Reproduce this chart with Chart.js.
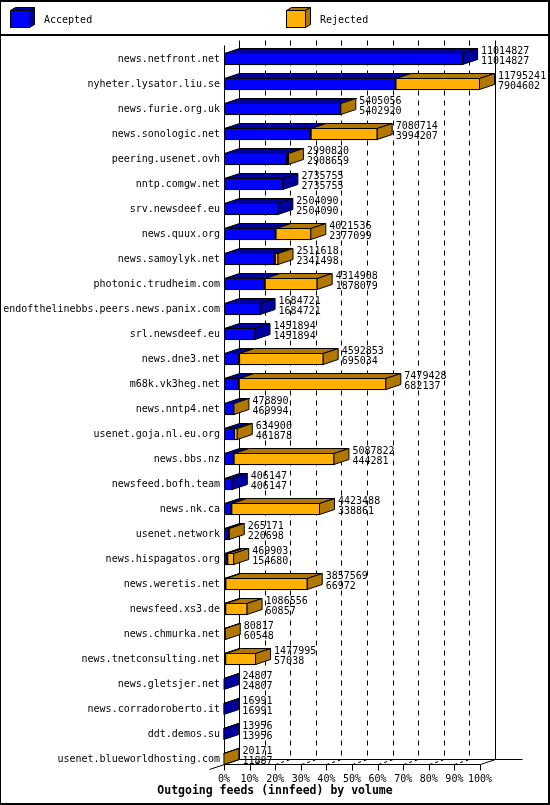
<!DOCTYPE html>
<html>
<head>
<meta charset="utf-8">
<script src="https://cdn.jsdelivr.net/npm/chart.js@4.4.0/dist/chart.umd.min.js"></script>
<style>
html,body{margin:0;padding:0;background:#fff;}
canvas{display:block;}
</style>
</head>
<body>
<canvas id="c" width="550" height="805"></canvas>
<script>
// ---- data ----
const categories = [
  'news.netfront.net','nyheter.lysator.liu.se','news.furie.org.uk','news.sonologic.net',
  'peering.usenet.ovh','nntp.comgw.net','srv.newsdeef.eu','news.quux.org',
  'news.samoylyk.net','photonic.trudheim.com','endofthelinebbs.peers.news.panix.com','srl.newsdeef.eu',
  'news.dne3.net','m68k.vk3heg.net','news.nntp4.net','usenet.goja.nl.eu.org',
  'news.bbs.nz','newsfeed.bofh.team','news.nk.ca','usenet.network',
  'news.hispagatos.org','news.weretis.net','newsfeed.xs3.de','news.chmurka.net',
  'news.tnetconsulting.net','news.gletsjer.net','news.corradoroberto.it','ddt.demos.su',
  'usenet.blueworldhosting.com'
];
const offered = [
  11014827, 11795241, 5405056, 7080714,
  2990820, 2735755, 2504090, 4021536,
  2511618, 4314908, 1684721, 1451894,
  4592853, 7479428, 478890, 634900,
  5087822, 406147, 4423488, 265171,
  469903, 3857569, 1086556, 80817,
  1477995, 24807, 16991, 13956,
  20171
];
const accepted = [
  11014827, 7904602, 5402920, 3994207,
  2908659, 2735755, 2504090, 2377099,
  2341498, 1878079, 1684721, 1451894,
  695034, 682137, 469994, 461878,
  444281, 406147, 338861, 220698,
  154680, 66972, 60857, 60548,
  57038, 24807, 16991, 13956,
  11887
];
const rejected = offered.map((v, i) => v - accepted[i]);
const tickPercents = [0, 10, 20, 30, 40, 50, 60, 70, 80, 90, 100];
const seriesNames = ['Accepted', 'Rejected'];
const chartTitle = 'Outgoing feeds (innfeed) by volume';

// ---- styles ----
const FRONT = ['#0000ff', '#ffb000'];
const DARK = ['#0000a0', '#b07800'];
const DX = 15, DY = 5;
const BAR = 12;
const MONO = '"DejaVu Sans Mono", monospace';
const FONT = '10px ' + MONO;
const maxVal = Math.max(...offered);

function poly(ctx, pts, fill) {
  ctx.beginPath();
  ctx.moveTo(pts[0][0], pts[0][1]);
  for (let k = 1; k < pts.length; k++) ctx.lineTo(pts[k][0], pts[k][1]);
  ctx.closePath();
  ctx.fillStyle = fill;
  ctx.fill();
  ctx.strokeStyle = '#000';
  ctx.lineWidth = 1;
  ctx.stroke();
}

function box3d(ctx, xa, xb, y0, y1, front, dark, side, dx, dy) {
  const w = xb - xa;
  ctx.fillStyle = '#000';
  ctx.fillRect(xa, y0, Math.max(w, 1), y1 - y0);
  if (w > 2) {
    ctx.fillStyle = front;
    ctx.fillRect(xa + 1, y0 + 1, w - 2, y1 - y0 - 2);
  }
  poly(ctx, [[xa + .5, y0 + .5], [xa + dx + .5, y0 - dy + .5], [xb + dx - .5, y0 - dy + .5], [xb - .5, y0 + .5]], dark);
  if (side) {
    poly(ctx, [[xb - .5, y0 + .5], [xb + dx - .5, y0 - dy + .5], [xb + dx - .5, y1 - dy - .5], [xb - .5, y1 - .5]], dark);
  }
}

function line(ctx, x1, y1, x2, y2) {
  ctx.beginPath();
  ctx.moveTo(x1, y1);
  ctx.lineTo(x2, y2);
  ctx.stroke();
}

const threeD = {
  id: 'threeD',
  beforeDraw(chart) {
    const ctx = chart.ctx;
    ctx.save();
    ctx.fillStyle = '#fff';
    ctx.fillRect(0, 0, chart.width, chart.height);
    ctx.restore();
  },
  beforeDatasetsDraw(chart) {
    const ctx = chart.ctx, xs = chart.scales.x, ys = chart.scales.y;
    const n = categories.length;
    const floorY = Math.round(ys.getPixelForValue(n - 1) + BAR / 2) - 0.5; // 764.5
    const topY = Math.round(ys.getPixelForValue(0) - 14) + 0.5;          // front top
    const xL = Math.round(xs.getPixelForValue(0)) + 0.5;
    const xR = Math.round(xs.getPixelForValue(maxVal)) + 0.5;
    ctx.save();
    ctx.strokeStyle = '#000';
    ctx.lineWidth = 1;
    // back wall dashed grid
    ctx.setLineDash([5, 5]);
    for (let k = 1; k < tickPercents.length - 1; k++) {
      const x = Math.round(xs.getPixelForValue(maxVal * tickPercents[k] / 100) + DX) + 0.5;
      line(ctx, x, topY - DY, x, floorY - DY);
    }
    // floor dashed diagonals
    ctx.setLineDash([3, 3]);
    for (let k = 1; k < tickPercents.length - 1; k++) {
      const x = Math.round(xs.getPixelForValue(maxVal * tickPercents[k] / 100)) + 0.5;
      line(ctx, x, floorY, x + DX, floorY - DY);
    }
    ctx.setLineDash([]);
    // back wall solid edges
    line(ctx, xL + DX, topY - DY, xL + DX, floorY - DY);
    line(ctx, xR + DX, topY - DY, xR + DX, floorY - DY);
    // front left axis
    line(ctx, xL, topY, xL, floorY + 0.5);
    // floor
    line(ctx, xL, floorY, xR, floorY);
    line(ctx, xL + DX, floorY - DY, xR + DX + 27, floorY - DY);
    line(ctx, xL - DX, floorY + DY, xL + DX, floorY - DY);
    line(ctx, xR, floorY, xR + DX, floorY - DY);
    // tick marks
    for (let k = 0; k < tickPercents.length; k++) {
      const x = Math.round(xs.getPixelForValue(maxVal * tickPercents[k] / 100)) + 0.5;
      line(ctx, x, floorY, x, floorY + 6);
    }
    ctx.restore();
  },
  afterDatasetsDraw(chart) {
    const ctx = chart.ctx, xs = chart.scales.x;
    const m0 = chart.getDatasetMeta(0), m1 = chart.getDatasetMeta(1);
    ctx.save();
    for (let i = 0; i < categories.length; i++) {
      const a = m0.data[i].getProps(['x', 'y', 'base', 'height'], true);
      const r = m1.data[i].getProps(['x', 'y', 'base', 'height'], true);
      const y0 = Math.round(a.y - a.height / 2), y1 = Math.round(a.y + a.height / 2);
      const hasRej = rejected[i] > 0;
      box3d(ctx, a.base, a.x, y0, y1, FRONT[0], DARK[0], !hasRej, DX, DY);
      if (hasRej) box3d(ctx, r.base, r.x, y0, y1, FRONT[1], DARK[1], true, DX, DY);
      // value labels
      ctx.fillStyle = '#000';
      ctx.font = FONT;
      ctx.textAlign = 'left';
      ctx.textBaseline = 'middle';
      const lx = xs.getPixelForValue(offered[i]) + DX + 3;
      ctx.fillText(String(offered[i]), lx, a.y - 7.5);
      ctx.fillText(String(accepted[i]), lx, a.y + 2.8);
    }
    ctx.restore();
  },
  afterDraw(chart) {
    const ctx = chart.ctx;
    ctx.save();
    // legend
    const legendX = [10, 286];
    chart.data.datasets.forEach((ds, i) => {
      const x0 = legendX[i];
      box3d(ctx, x0, x0 + 20, 10, 28, FRONT[i], DARK[i], true, 5, 3);
      ctx.fillStyle = '#000';
      ctx.font = FONT;
      ctx.textAlign = 'left';
      ctx.textBaseline = 'middle';
      ctx.fillText(ds.label, x0 + 34, 20.5);
    });
    // separator and frame
    ctx.fillStyle = '#000';
    ctx.fillRect(0, 34, chart.width, 2);
    ctx.fillRect(0, 0, chart.width, 2);
    ctx.fillRect(0, 0, 1, chart.height);
    ctx.fillRect(chart.width - 2, 0, 2, chart.height);
    ctx.fillRect(0, chart.height - 2, chart.width, 2);
    // axis title
    ctx.font = 'bold 11.5px ' + MONO;
    ctx.textAlign = 'center';
    ctx.textBaseline = 'middle';
    ctx.fillText(chartTitle, 275, 791);
    ctx.restore();
  }
};

new Chart(document.getElementById('c'), {
  type: 'bar',
  data: {
    labels: categories,
    datasets: [
      { label: seriesNames[0], data: accepted, backgroundColor: FRONT[0], borderColor: '#000',
        borderWidth: 1, borderSkipped: false, barThickness: BAR },
      { label: seriesNames[1], data: rejected, backgroundColor: FRONT[1], borderColor: '#000',
        borderWidth: 1, borderSkipped: false, barThickness: BAR }
    ]
  },
  options: {
    indexAxis: 'y',
    responsive: false,
    animation: false,
    devicePixelRatio: 1,
    layout: { padding: { top: 46.5, right: 70, bottom: 0, left: 0 } },
    plugins: { legend: { display: false }, tooltip: { enabled: false }, title: { display: false } },
    scales: {
      x: {
        type: 'linear', stacked: true, min: 0, max: maxVal, position: 'bottom',
        grid: { display: false, drawTicks: false }, border: { display: false },
        afterBuildTicks: s => { s.ticks = tickPercents.map(p => ({ value: maxVal * p / 100 })); },
        ticks: { autoSkip: false, maxRotation: 0, padding: 2, color: '#000',
          font: { family: MONO, size: 10 },
          callback: (v, i) => tickPercents[i] + '%' },
        afterFit: s => { s.height = 33.5; }
      },
      y: {
        type: 'category', stacked: true,
        grid: { display: false, drawTicks: false }, border: { display: false },
        ticks: { autoSkip: false, padding: 4, color: '#000', font: { family: MONO, size: 10 } },
        afterFit: s => { s.width = 224; }
      }
    }
  },
  plugins: [threeD]
});
</script>
</body>
</html>
